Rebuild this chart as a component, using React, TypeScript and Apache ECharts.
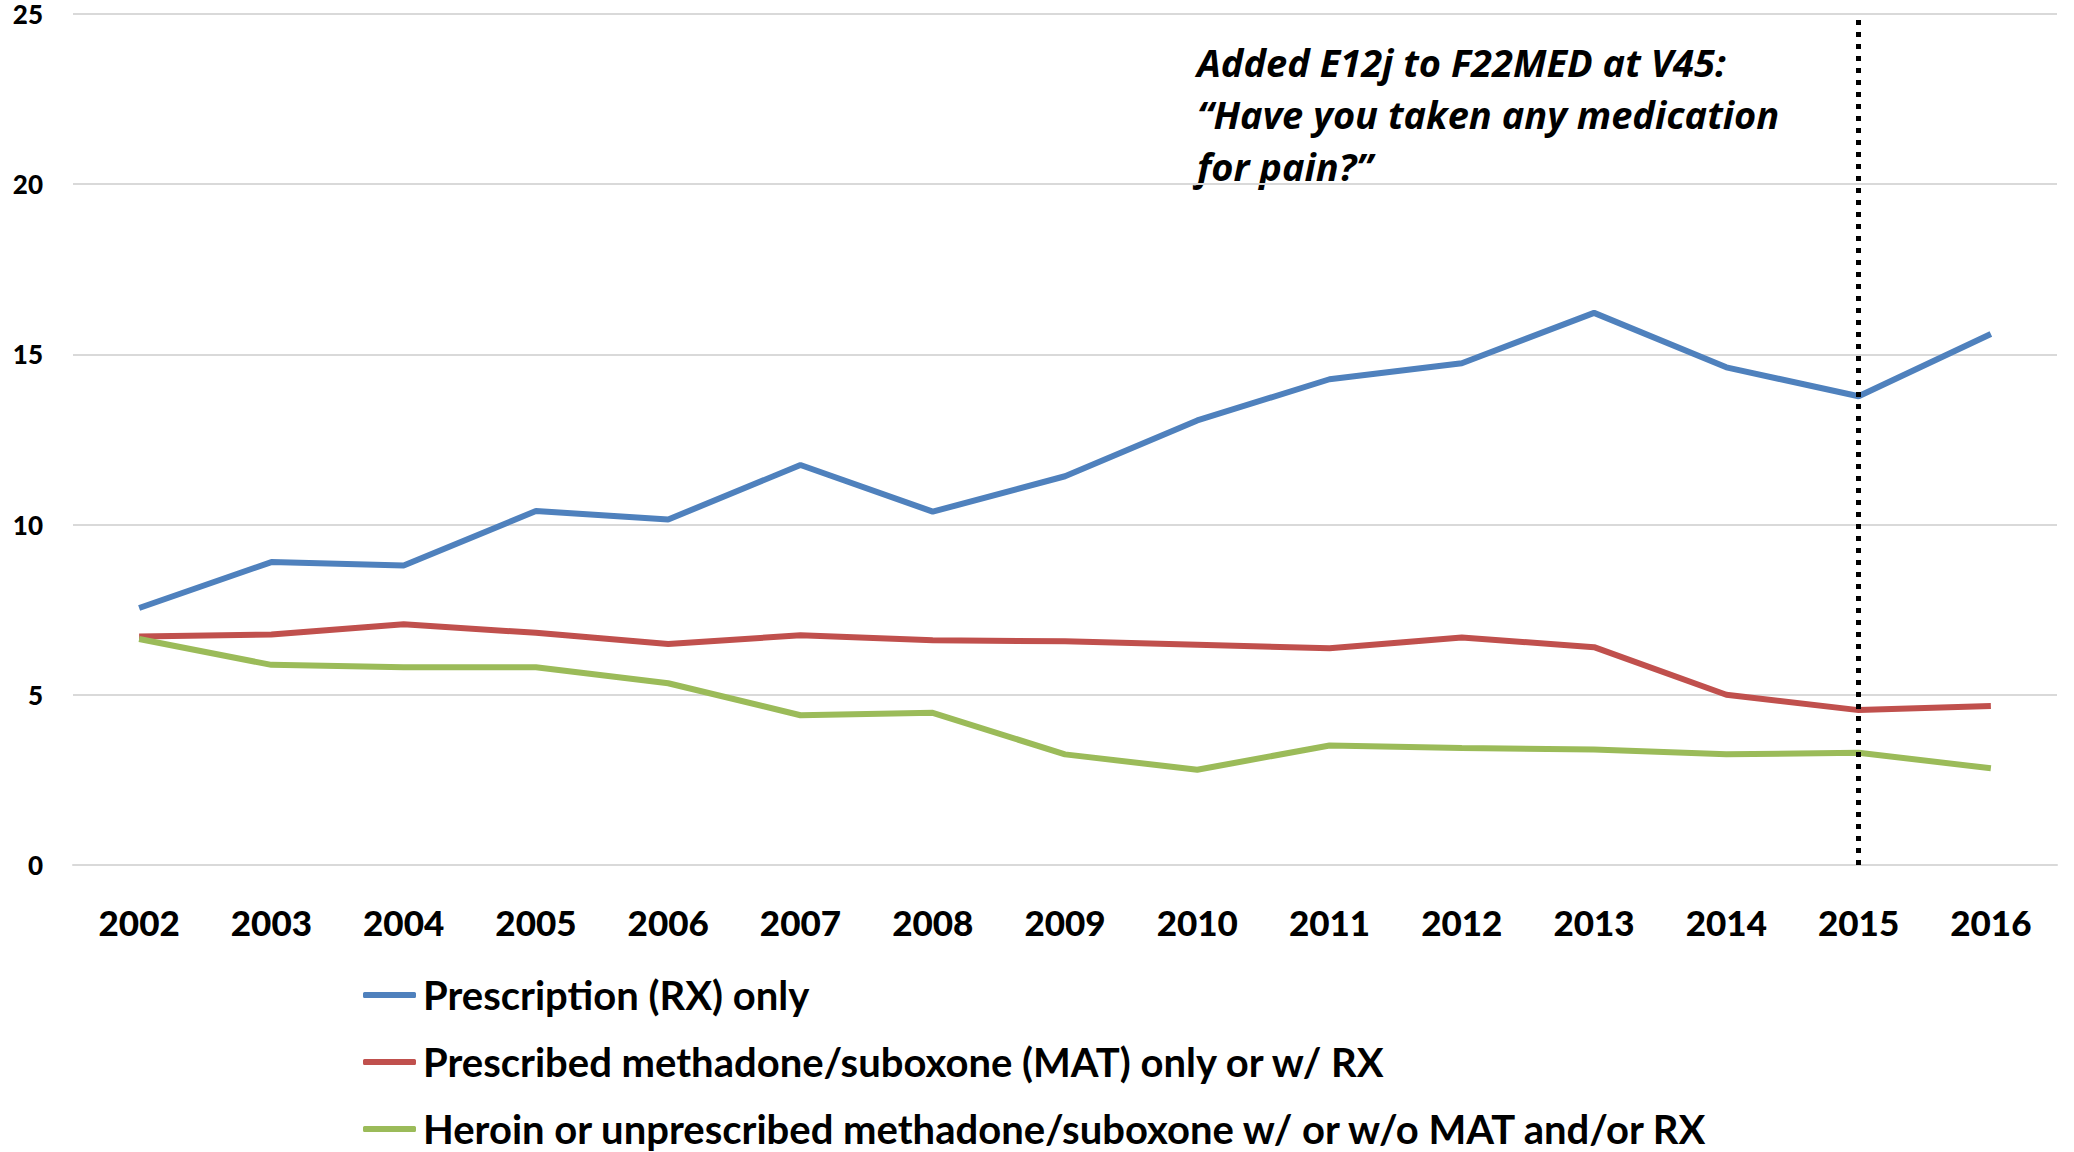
import React, { useEffect, useRef } from "react";
import * as echarts from "echarts";

const years = ["2002", "2003", "2004", "2005", "2006", "2007", "2008", "2009", "2010", "2011", "2012", "2013", "2014", "2015", "2016"];
const rxOnly = [7.55, 8.9, 8.8, 10.4, 10.15, 11.75, 10.38, 11.42, 13.06, 14.27, 14.74, 16.22, 14.62, 13.77, 15.6];
const matOnly = [6.71, 6.77, 7.07, 6.82, 6.49, 6.75, 6.6, 6.57, 6.47, 6.37, 6.68, 6.4, 5.0, 4.55, 4.67];
const heroin = [6.64, 5.88, 5.81, 5.81, 5.34, 4.4, 4.47, 3.25, 2.8, 3.51, 3.44, 3.39, 3.25, 3.3, 2.84];
const seriesNames = [
  "Prescription (RX) only",
  "Prescribed methadone/suboxone (MAT) only or w/ RX",
  "Heroin or unprescribed methadone/suboxone w/ or w/o MAT and/or RX",
];
const markYear = "2015";
const annotation = "Added E12j to F22MED at V45:\n\u201cHave you taken any medication\nfor pain?\u201d";

export default function App() {
  const ref = useRef<HTMLDivElement>(null);
  useEffect(() => {
    if (!ref.current) return;
    const chart = echarts.init(ref.current, null, { renderer: "svg" });
    const numFont = "Lato";
    chart.setOption({
      animation: false,
      backgroundColor: "#ffffff",
      color: ["#4F81BD", "#C0504D", "#9BBB59"],
      grid: { left: 73, right: 17, top: 14, bottom: 287, containLabel: false, outerBoundsMode: "none" },
      xAxis: {
        type: "category",
        data: years,
        boundaryGap: true,
        axisLine: { show: true, lineStyle: { color: "#D9D9D9", width: 2 } },
        axisTick: { show: false },
        axisLabel: { color: "#000", fontFamily: numFont, fontWeight: 900, fontSize: 35, margin: 39 },
      },
      yAxis: {
        type: "value",
        min: 0,
        max: 25,
        interval: 5,
        axisLine: { show: false },
        axisTick: { show: false },
        axisLabel: { color: "#000", fontFamily: numFont, fontWeight: 900, fontSize: 26, margin: 30 },
        splitLine: { show: true, lineStyle: { color: "#D9D9D9", width: 2 } },
      },
      legend: {
        orient: "vertical",
        left: 363,
        top: 975,
        padding: 0,
        icon: "roundRect",
        itemWidth: 53,
        itemHeight: 6,
        itemGap: 27,
        data: seriesNames,
        textStyle: { color: "#000", fontFamily: "Lato", fontWeight: "bold", fontSize: 40, lineHeight: 40, padding: [0, 0, 0, 2] },
      },
      graphic: [
        {
          type: "text",
          left: 1197,
          top: 36,
          style: {
            text: annotation,
            fill: "#000",
            font: "italic bold 38px 'Open Sans'",
            lineHeight: 52,
          },
        },
      ],
      series: [
        {
          name: seriesNames[0],
          type: "line",
          data: rxOnly,
          showSymbol: false,
          lineStyle: { width: 6 },
          z: 2,
          markLine: {
            silent: true,
            symbol: ["none", "none"],
            label: { show: false },
            lineStyle: { color: "#000", width: 5, type: [5, 7], opacity: 1 },
            emphasis: { disabled: true },
            data: [{ xAxis: markYear }],
            z: 10,
          },
        },
        { name: seriesNames[1], type: "line", data: matOnly, showSymbol: false, lineStyle: { width: 6 }, z: 3 },
        { name: seriesNames[2], type: "line", data: heroin, showSymbol: false, lineStyle: { width: 6 }, z: 4 },
      ],
    });
    return () => chart.dispose();
  }, []);
  return <div ref={ref} style={{ position: "fixed", left: 0, top: 0, width: 2074, height: 1152 }} />;
}
